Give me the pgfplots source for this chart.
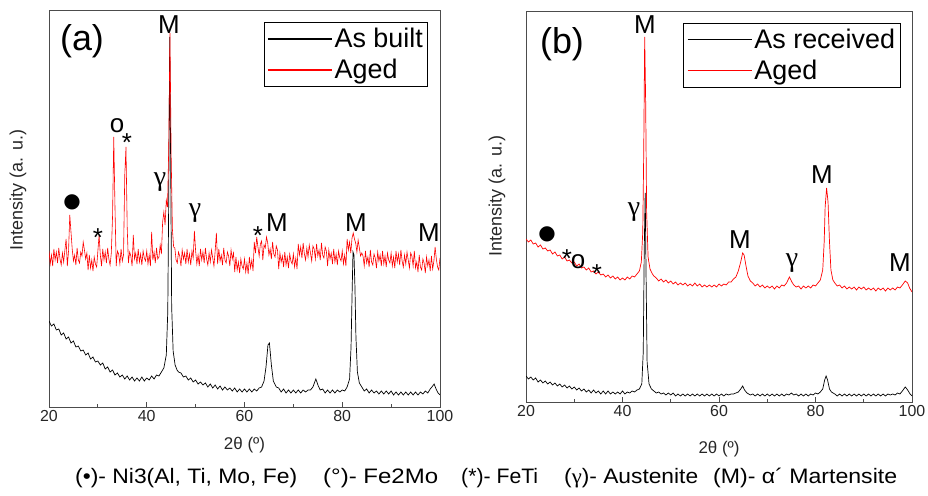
\documentclass[border=0pt]{standalone}
\usepackage{fontspec}
\setmainfont{Liberation Sans}
\newfontfamily\serifg{Liberation Serif}
\newfontfamily\dejavu{DejaVu Sans}
\usepackage{pgfplots}
\pgfplotsset{compat=1.18}
\usepackage{graphicx}
\pgfplotsset{xrd/.style={scale only axis, xmin=20, xmax=100, ymin=0,
  xtick={20,40,60,80,100}, minor x tick num=1, ytick=\empty,
  tick align=inside, xtick pos=left,
  axis line style={black!70, line width=0.8pt},
  major tick length=5bp, minor tick length=3bp,
  every tick/.style={black!70, line width=0.8pt},
  xticklabel style={font=\fontsize{16}{18}\selectfont, text=black!85},
  /pgf/number format/assume math mode=true,
  legend cell align=left,
  legend style={draw=black, line width=0.8pt, font=\fontsize{27}{29}\selectfont,
    at={(0.97,0.97)}, anchor=north east, inner xsep=3bp, inner ysep=4bp, row sep=6bp,
    nodes={inner sep=2bp}},
  legend image code/.code={\draw[#1] (0bp,0bp) -- (64bp,0bp);},
  legend image post style={line width=1.6pt}}}
\newcommand{\ann}[3]{\node[font=\fontsize{26}{28}\selectfont, inner sep=0pt] at (#1bp,#2bp) {#3};}
\newcommand{\gam}[2]{\node[font=\serifg\fontsize{28}{30}\selectfont, inner sep=0pt] at (#1bp,#2bp) {γ};}
\newcommand{\captext}[3]{\node[font=\fontsize{21}{23}\selectfont, anchor=west, inner sep=0pt] at (#1bp,18bp) {\resizebox{#2bp}{\height}{#3}};}
\begin{document}
\begin{tikzpicture}
\useasboundingbox (0,0) rectangle (928bp,496bp);
% ---------------- panel (a)
\begin{axis}[xrd, at={(49bp,89bp)}, anchor=south west, width=391bp, height=397bp, ymax=397]
\addplot[black, line width=0.7pt] coordinates {(20,86)(20.5,81)(21,83)(21.5,77)(22,78)(22.5,72)(23,74)(23.5,68)(24,70)(24.5,64)(25,66)(25.5,60)(26,61)(26.5,56)(27,57)(27.5,52)(28,54)(28.5,48)(29,50)(29.5,45)(30,46)(30.5,42)(31,44)(31.5,38)(32,40)(32.5,35)(33,37)(33.5,32)(34,34)(34.5,30)(35,32)(35.5,28)(36,31)(36.5,27)(37,30)(37.5,26)(38,29)(38.5,26)(39,30)(39.5,26)(40,29)(40.5,27)(41,31)(41.5,28)(42,32)(42.5,31)(43,35)(43.5,39)(44,52)(44.3,95)(44.5,210)(44.7,370)(44.9,240)(45.1,100)(45.4,56)(45.8,42)(46.2,37)(46.5,35)(47,34)(47.5,30)(48,31)(48.5,27)(49,29)(49.5,25)(50,27)(50.5,23)(51,25)(51.5,22)(52,24)(52.5,20)(53,23)(53.5,19)(54,22)(54.5,18)(55,21)(55.5,17)(56,20)(56.5,17)(57,19)(57.5,16)(58,19)(58.5,15)(59,18)(59.5,15)(60,18)(60.5,15)(61,18)(61.5,15)(62,18)(62.5,16)(63,19)(63.5,20)(64,26)(64.4,40)(64.8,62)(65.1,64)(65.5,42)(65.9,26)(66.5,20)(67,19)(67.5,15)(68,18)(68.5,14)(69,17)(69.5,14)(70,17)(70.5,14)(71,17)(71.5,14)(72,17)(72.5,15)(73,17)(73.5,17)(74,20)(74.6,28)(75.1,21)(75.5,17)(76,18)(76.5,14)(77,17)(77.5,14)(78,17)(78.5,14)(79,17)(79.5,15)(80,17)(80.5,16)(81,20)(81.5,28)(81.8,60)(82,110)(82.2,155)(82.4,152)(82.6,120)(82.8,70)(83.1,35)(83.5,24)(84,20)(84.5,16)(85,18)(85.5,14)(86,17)(86.5,14)(87,16)(87.5,13)(88,16)(88.5,13)(89,16)(89.5,13)(90,16)(90.5,12)(91,15)(91.5,12)(92,15)(92.5,12)(93,15)(93.5,12)(94,15)(94.5,12)(95,15)(95.5,12)(96,15)(96.5,13)(97,16)(97.5,14)(98,18)(98.5,21)(98.8,23)(99.2,18)(99.6,14)(100,12)};
\addlegendentry{As built}
\addplot[red, line width=0.6pt] coordinates {(20,156)(20.25,143)(20.5,152)(20.75,141)(21,158)(21.25,147)(21.5,155)(21.75,144)(22,159)(22.25,148)(22.5,142)(22.75,154)(23,145)(23.25,157)(23.5,168)(23.75,141)(24,156)(24.25,192)(24.5,175)(24.75,158)(25,146)(25.25,152)(25.5,142)(25.75,159)(26,147)(26.25,144)(26.5,155)(26.75,151)(27,165)(27.25,157)(27.5,148)(27.75,154)(28,137)(28.25,152)(28.5,139)(28.75,147)(29,136)(29.25,150)(29.5,143)(29.75,140)(30,156)(30.25,172)(30.5,152)(30.75,141)(31,158)(31.25,147)(31.5,155)(31.75,144)(32,159)(32.25,148)(32.5,142)(32.75,154)(33,190)(33.25,270)(33.5,200)(33.75,141)(34,156)(34.25,153)(34.5,143)(34.75,158)(35,146)(35.25,152)(35.5,232)(35.75,260)(36,180)(36.25,144)(36.5,155)(36.75,151)(37,141)(37.25,172)(37.5,148)(37.75,154)(38,143)(38.25,158)(38.5,145)(38.75,153)(39,142)(39.25,156)(39.5,149)(39.75,146)(40,156)(40.25,143)(40.5,152)(40.75,141)(41,175)(41.25,147)(41.5,155)(41.75,144)(42,159)(42.25,148)(42.5,150)(42.75,162)(43,153)(43.25,185)(43.5,195)(43.75,182)(44,207)(44.25,200)(44.5,260)(44.75,374)(45,250)(45.25,178)(45.5,160)(45.75,159)(46,147)(46.25,144)(46.5,155)(46.75,151)(47,141)(47.25,157)(47.5,148)(47.75,154)(48,143)(48.25,158)(48.5,145)(48.75,153)(49,142)(49.25,156)(49.5,149)(49.75,176)(50,156)(50.25,143)(50.5,152)(50.75,141)(51,158)(51.25,147)(51.5,155)(51.75,144)(52,159)(52.25,148)(52.5,142)(52.75,154)(53,145)(53.25,157)(53.5,149)(53.75,141)(54,156)(54.25,174)(54.5,143)(54.75,158)(55,146)(55.25,152)(55.5,142)(55.75,159)(56,147)(56.25,144)(56.5,155)(56.75,151)(57,141)(57.25,157)(57.5,148)(57.75,154)(58,135)(58.25,150)(58.5,137)(58.75,145)(59,134)(59.25,148)(59.5,141)(59.75,138)(60,148)(60.25,135)(60.5,144)(60.75,133)(61,150)(61.25,139)(61.5,147)(61.75,136)(62,165)(62.25,154)(62.5,170)(62.75,160)(63,151)(63.25,163)(63.5,166)(63.75,147)(64,162)(64.25,159)(64.5,170)(64.75,164)(65,152)(65.25,158)(65.5,148)(65.75,165)(66,153)(66.25,150)(66.5,161)(66.75,157)(67,138)(67.25,154)(67.5,145)(67.75,151)(68,140)(68.25,155)(68.5,142)(68.75,150)(69,139)(69.25,153)(69.5,146)(69.75,143)(70,153)(70.25,140)(70.5,149)(70.75,138)(71,163)(71.25,152)(71.5,160)(71.75,149)(72,164)(72.25,153)(72.5,147)(72.75,159)(73,150)(73.25,162)(73.5,154)(73.75,146)(74,161)(74.25,158)(74.5,148)(74.75,163)(75,151)(75.25,157)(75.5,147)(75.75,164)(76,152)(76.25,149)(76.5,160)(76.75,156)(77,141)(77.25,157)(77.5,148)(77.75,154)(78,143)(78.25,158)(78.5,145)(78.75,153)(79,142)(79.25,156)(79.5,149)(79.75,146)(80,156)(80.25,143)(80.5,152)(80.75,141)(81,168)(81.25,157)(81.5,165)(81.75,154)(82,169)(82.25,174)(82.5,168)(82.75,164)(83,155)(83.25,167)(83.5,159)(83.75,151)(84,154)(84.25,151)(84.5,141)(84.75,156)(85,144)(85.25,150)(85.5,140)(85.75,157)(86,145)(86.25,142)(86.5,153)(86.75,149)(87,139)(87.25,155)(87.5,146)(87.75,152)(88,141)(88.25,156)(88.5,143)(88.75,151)(89,140)(89.25,154)(89.5,147)(89.75,144)(90,154)(90.25,141)(90.5,150)(90.75,139)(91,156)(91.25,145)(91.5,153)(91.75,142)(92,157)(92.25,146)(92.5,140)(92.75,152)(93,143)(93.25,155)(93.5,147)(93.75,139)(94,154)(94.25,151)(94.5,141)(94.75,156)(95,139)(95.25,145)(95.5,135)(95.75,152)(96,140)(96.25,137)(96.5,148)(96.75,144)(97,134)(97.25,150)(97.5,141)(97.75,147)(98,136)(98.25,151)(98.5,138)(98.75,146)(99,160)(99.25,148)(99.5,140)(99.75,137)(100,149)};
\addlegendentry{Aged}
\end{axis}
% ---------------- panel (b)
\begin{axis}[xrd, at={(526bp,94bp)}, anchor=south west, width=386bp, height=391bp, ymax=391]
\addplot[black, line width=0.7pt] coordinates {(20,26)(20.5,23)(21,25)(21.5,22)(22,24)(22.5,20)(23,22)(23.5,19)(24,21)(24.5,18)(25,20)(25.5,17)(26,19)(26.5,16)(27,18)(27.5,15)(28,17)(28.5,14)(29,16)(29.5,13)(30,15)(30.5,12)(31,14)(31.5,11)(32,13)(32.5,10)(33,12)(33.5,9)(34,12)(34.5,9)(35,11)(35.5,8)(36,11)(36.5,8)(37,11)(37.5,8)(38,10)(38.5,8)(39,10)(39.5,8)(40,11)(40.5,8)(41,10)(41.5,9)(42,11)(42.5,10)(43,12)(43.5,13)(44,18)(44.3,50)(44.5,150)(44.7,209)(44.9,120)(45.1,40)(45.5,18)(46,13)(46.5,11)(47,9)(47.5,10)(48,8)(48.5,9)(49,7)(49.5,9)(50,7)(50.5,9)(51,6)(51.5,8)(52,6)(52.5,8)(53,6)(53.5,8)(54,6)(54.5,8)(55,6)(55.5,8)(56,6)(56.5,8)(57,6)(57.5,8)(58,6)(58.5,8)(59,6)(59.5,8)(60,6)(60.5,8)(61,6)(61.5,8)(62,7)(62.5,8)(63,8)(63.5,9)(64,10)(64.5,13)(64.9,16)(65.3,12)(65.8,9)(66.5,7)(67,8)(67.5,6)(68,8)(68.5,6)(69,8)(69.5,6)(70,8)(70.5,6)(71,8)(71.5,6)(72,8)(72.5,6)(73,8)(73.5,6)(74,8)(74.5,7)(75,9)(75.5,7)(76,8)(76.5,6)(77,8)(77.5,6)(78,8)(78.5,6)(79,8)(79.5,7)(80,9)(80.5,8)(81,10)(81.5,13)(81.9,22)(82.2,26)(82.5,22)(82.9,13)(83.3,10)(84,8)(84.5,6)(85,8)(85.5,6)(86,8)(86.5,6)(87,8)(87.5,6)(88,8)(88.5,6)(89,8)(89.5,6)(90,8)(90.5,6)(91,8)(91.5,6)(92,8)(92.5,6)(93,8)(93.5,6)(94,8)(94.5,6)(95,8)(95.5,7)(96,8)(96.5,7)(97,9)(97.5,8)(98,11)(98.6,15)(99.1,12)(99.6,8)(100,6)};
\addlegendentry{As received}
\addplot[red, line width=0.7pt] coordinates {(20,163)(20.5,160)(21,162)(21.5,158)(22,159)(22.5,155)(23,157)(23.5,153)(24,154)(24.5,151)(25,152)(25.5,148)(26,150)(26.5,146)(27,147)(27.5,143)(28,145)(28.5,141)(29,142)(29.5,139)(30,140)(30.5,136)(31,138)(31.5,134)(32,135)(32.5,132)(33,134)(33.5,130)(34,131)(34.5,128)(35,130)(35.5,127)(36,128)(36.5,125)(37,127)(37.5,124)(38,126)(38.5,123)(39,125)(39.5,122)(40,124)(40.5,122)(41,125)(41.5,123)(42,126)(42.5,125)(43,128)(43.5,131)(43.9,140)(44.2,170)(44.4,250)(44.6,365)(44.8,300)(45,190)(45.3,145)(45.7,133)(46.2,128)(46.5,126)(47,124)(47.5,121)(48,123)(48.5,120)(49,122)(49.5,119)(50,121)(50.5,118)(51,120)(51.5,117)(52,119)(52.5,117)(53,119)(53.5,116)(54,118)(54.5,116)(55,119)(55.5,116)(56,118)(56.5,115)(57,117)(57.5,115)(58,117)(58.5,115)(59,117)(59.5,115)(60,118)(60.5,116)(61,118)(61.5,117)(62,120)(62.5,120)(63,123)(63.5,125)(64,131)(64.5,140)(64.9,149)(65.2,147)(65.6,136)(66,126)(66.5,121)(67,119)(67.5,116)(68,118)(68.5,115)(69,117)(69.5,114)(70,116)(70.5,114)(71,116)(71.5,113)(72,116)(72.5,114)(73,117)(73.5,116)(74,119)(74.6,125)(75.1,120)(75.5,117)(76,115)(76.5,116)(77,113)(77.5,116)(78,114)(78.5,116)(79,114)(79.5,117)(80,116)(80.5,119)(81,122)(81.5,132)(81.8,160)(82,195)(82.3,214)(82.6,200)(82.9,160)(83.2,132)(83.6,122)(84,119)(84.5,116)(85,117)(85.5,114)(86,116)(86.5,113)(87,115)(87.5,113)(88,115)(88.5,112)(89,115)(89.5,113)(90,115)(90.5,112)(91,114)(91.5,112)(92,114)(92.5,111)(93,114)(93.5,112)(94,114)(94.5,111)(95,114)(95.5,112)(96,114)(96.5,112)(97,115)(97.5,114)(98,117)(98.6,121)(99.1,119)(99.5,114)(100,110)};
\addlegendentry{Aged}
\end{axis}
% ---------------- texts
\node[font=\fontsize{36}{40}\selectfont] at (82bp,455bp) {(a)};
\node[font=\fontsize{36}{40}\selectfont] at (562bp,452bp) {(b)};
\node[rotate=90, font=\fontsize{18}{20}\selectfont, text=black!85] at (18bp,306bp) {Intensity (a. u.)};
\node[rotate=90, font=\fontsize{18}{20}\selectfont, text=black!85] at (497bp,300bp) {Intensity (a. u.)};
\node[font=\fontsize{17}{19}\selectfont, text=black!85] at (244.5bp,51bp) {2θ (º)};
\node[font=\fontsize{17}{19}\selectfont, text=black!85] at (719bp,47bp) {2θ (º)};
% annotations (a)
\ann{169}{471}{M}
\ann{117}{370}{o}
\ann{127}{353}{*}
\gam{160}{314}
\node[font=\dejavu\fontsize{20}{22}\selectfont, inner sep=0pt] at (72bp,294bp) {●};
\ann{98}{258}{*}
\gam{195}{283}
\ann{258}{260}{*}
\ann{277}{273}{M}
\ann{356}{273}{M}
\ann{429}{263}{M}
% annotations (b)
\ann{645}{471}{M}
\gam{634}{284}
\ann{822}{321}{M}
\ann{740}{256}{M}
\gam{792}{233}
\ann{900}{233}{M}
\node[font=\dejavu\fontsize{20}{22}\selectfont, inner sep=0pt] at (547bp,262bp) {●};
\ann{567}{237}{*}
\ann{578}{234}{o}
\ann{597}{222}{*}
% caption
\captext{75}{222}{(•)- Ni3(Al, Ti, Mo, Fe)}
\captext{323}{115}{(°)- Fe2Mo}
\captext{461}{77}{(*)- FeTi}
\captext{564}{134}{({\serifg γ})- Austenite}
\captext{713}{184}{(M)- α´ Martensite}
\end{tikzpicture}
\end{document}
